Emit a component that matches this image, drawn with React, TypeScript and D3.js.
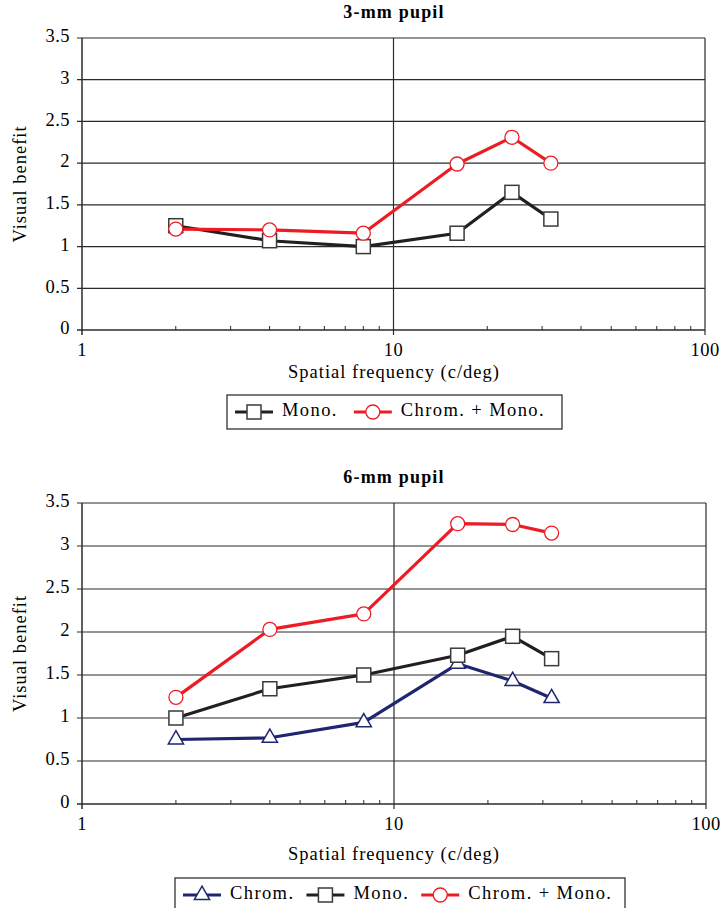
import React, { useRef, useEffect } from 'react';
import * as d3 from 'd3';

// spatial frequencies (c/deg)
const freqs = [2, 4, 8, 16, 24, 32];

// 3-mm pupil
const mono3 = [1.25, 1.07, 1.0, 1.16, 1.65, 1.33];
const chromMono3 = [1.21, 1.2, 1.16, 1.99, 2.31, 2.0];

// 6-mm pupil
const chrom6 = [0.75, 0.77, 0.95, 1.63, 1.43, 1.23];
const mono6 = [1.0, 1.34, 1.5, 1.73, 1.95, 1.69];
const chromMono6 = [1.24, 2.03, 2.21, 3.26, 3.25, 3.15];

const yTicks = [0, 0.5, 1, 1.5, 2, 2.5, 3, 3.5];
const xMajor = [1, 10, 100];

type Marker = 'square' | 'circle' | 'triangle';

interface Series {
  name: string;
  values: number[];
  color: string;
  marker: Marker;
}

interface Panel {
  title: string;
  top: number;
  bottom: number;
  right: number;
  series: Series[];
  legendX: number;
  legendW: number;
  legendTop: number;
  legendGap: number;
  titleY: number;
  xTitleY: number;
}

const BLUE = '#1f2670';
const BLACK = '#231f20';
const RED = '#ec1c24';
const GRID = '#2b2b2b';
const FONT = '"Liberation Serif", "DejaVu Serif", serif';

const panels: Panel[] = [
  {
    title: '3-mm pupil',
    top: 38,
    bottom: 330,
    right: 705,
    titleY: 14,
    xTitleY: 374,
    legendTop: 395,
    legendX: 227,
    legendW: 335,
    legendGap: 16,
    series: [
      { name: 'Mono.', values: mono3, color: BLACK, marker: 'square' },
      { name: 'Chrom. + Mono.', values: chromMono3, color: RED, marker: 'circle' },
    ],
  },
  {
    title: '6-mm pupil',
    top: 503,
    bottom: 804,
    right: 706,
    titleY: 479,
    xTitleY: 856,
    legendTop: 878,
    legendX: 175,
    legendW: 450,
    legendGap: 12,
    series: [
      { name: 'Chrom.', values: chrom6, color: BLUE, marker: 'triangle' },
      { name: 'Mono.', values: mono6, color: BLACK, marker: 'square' },
      { name: 'Chrom. + Mono.', values: chromMono6, color: RED, marker: 'circle' },
    ],
  },
];

const drawMarker = (
  g: d3.Selection<SVGGElement, unknown, null, undefined>,
  marker: Marker,
  color: string,
  x: number,
  y: number
) => {
  if (marker === 'square') {
    g.append('rect')
      .attr('x', x - 7).attr('y', y - 7)
      .attr('width', 14).attr('height', 14)
      .attr('fill', '#fff')
      .attr('stroke', '#3a3a3a')
      .attr('stroke-width', 1.5);
  } else if (marker === 'circle') {
    g.append('circle')
      .attr('cx', x).attr('cy', y).attr('r', 7)
      .attr('fill', '#fff')
      .attr('stroke', color)
      .attr('stroke-width', 1.3);
  } else {
    g.append('path')
      .attr('transform', `translate(${x},${y})`)
      .attr('d', d3.symbol(d3.symbolTriangle, 100)())
      .attr('fill', '#fff')
      .attr('stroke', color)
      .attr('stroke-width', 1.5);
  }
};

export default function App() {
  const svgRef = useRef<SVGSVGElement>(null);

  useEffect(() => {
    const svg = d3.select(svgRef.current);
    svg.selectAll('*').remove();
    const left = 82;

    panels.forEach(p => {
      const x = d3.scaleLog().domain([1, 100]).range([left, p.right]);
      const y = d3.scaleLinear().domain([0, 3.5]).range([p.bottom, p.top]);
      const g = svg.append('g') as d3.Selection<SVGGElement, unknown, null, undefined>;

      // title
      g.append('text')
        .attr('x', 394).attr('y', p.titleY)
        .attr('text-anchor', 'middle').attr('dominant-baseline', 'middle')
        .attr('font-weight', 'bold').attr('font-size', 18)
        .attr('letter-spacing', 1.2)
        .text(p.title);

      // horizontal grid + y ticks
      yTicks.forEach(t => {
        g.append('line')
          .attr('x1', left - 5).attr('x2', p.right)
          .attr('y1', y(t)).attr('y2', y(t))
          .attr('stroke', GRID).attr('stroke-width', t === 0 ? 1.5 : 1.2);
        g.append('text')
          .attr('x', left - 12).attr('y', y(t))
          .attr('text-anchor', 'end').attr('dominant-baseline', 'middle')
          .attr('font-size', 18.5).attr('letter-spacing', 0.5)
          .text(String(t));
      });

      // vertical lines: axis, 10, right edge
      xMajor.forEach(v => {
        g.append('line')
          .attr('x1', x(v)).attr('x2', x(v))
          .attr('y1', p.top).attr('y2', p.bottom + 5)
          .attr('stroke', GRID).attr('stroke-width', v === 1 ? 1.5 : 1.2);
      });

      // minor ticks
      const minors = x.ticks().filter(v => !xMajor.includes(v));
      minors.forEach(v => {
        g.append('line')
          .attr('x1', x(v)).attr('x2', x(v))
          .attr('y1', p.bottom - 4).attr('y2', p.bottom)
          .attr('stroke', GRID).attr('stroke-width', 1);
      });

      xMajor.forEach(v => {
        g.append('text')
          .attr('x', x(v)).attr('y', p.bottom + 22)
          .attr('text-anchor', 'middle').attr('dominant-baseline', 'middle')
          .attr('font-size', 18.5).attr('letter-spacing', 0.5)
          .text(String(v));
      });

      g.append('text')
        .attr('x', 394).attr('y', p.xTitleY)
        .attr('text-anchor', 'middle').attr('dominant-baseline', 'middle')
        .attr('font-size', 18.5).attr('letter-spacing', 1)
        .text('Spatial frequency (c/deg)');

      g.append('text')
        .attr('transform', `translate(22,${(p.top + p.bottom) / 2}) rotate(-90)`)
        .attr('text-anchor', 'middle').attr('dominant-baseline', 'middle')
        .attr('font-size', 18.5).attr('letter-spacing', 1)
        .text('Visual benefit');

      // series
      p.series.forEach(s => {
        const line = d3.line<number>()
          .x((_, i) => x(freqs[i]))
          .y(d => y(d));
        g.append('path')
          .attr('d', line(s.values))
          .attr('fill', 'none')
          .attr('stroke', s.color)
          .attr('stroke-width', 3.2)
          .attr('stroke-linejoin', 'round');
      });
      p.series.forEach(s => {
        s.values.forEach((v, i) => drawMarker(g, s.marker, s.color, x(freqs[i]), y(v)));
      });

      // legend
      const lh = 34;
      g.append('rect')
        .attr('x', p.legendX).attr('y', p.legendTop)
        .attr('width', p.legendW).attr('height', lh)
        .attr('fill', '#fff').attr('stroke', BLACK).attr('stroke-width', 1.2);
      let cx = p.legendX + 8;
      const cy = p.legendTop + lh / 2;
      p.series.forEach(s => {
        g.append('line')
          .attr('x1', cx).attr('x2', cx + 38)
          .attr('y1', cy).attr('y2', cy)
          .attr('stroke', s.color).attr('stroke-width', 3.2);
        drawMarker(g, s.marker, s.color, cx + 19, cy);
        const t = g.append('text')
          .attr('x', cx + 47).attr('y', cy)
          .attr('dominant-baseline', 'middle')
          .attr('font-size', 18.5).attr('letter-spacing', 1.4)
          .text(s.name);
        const w = (t.node() as SVGTextElement).getComputedTextLength();
        cx += 47 + w + p.legendGap;
      });
    });
  }, []);

  return (
    <div style={{ position: 'absolute', left: 0, top: 0 }}>
      <svg ref={svgRef} width={723} height={908} style={{ fontFamily: FONT, display: 'block' }} />
    </div>
  );
}
